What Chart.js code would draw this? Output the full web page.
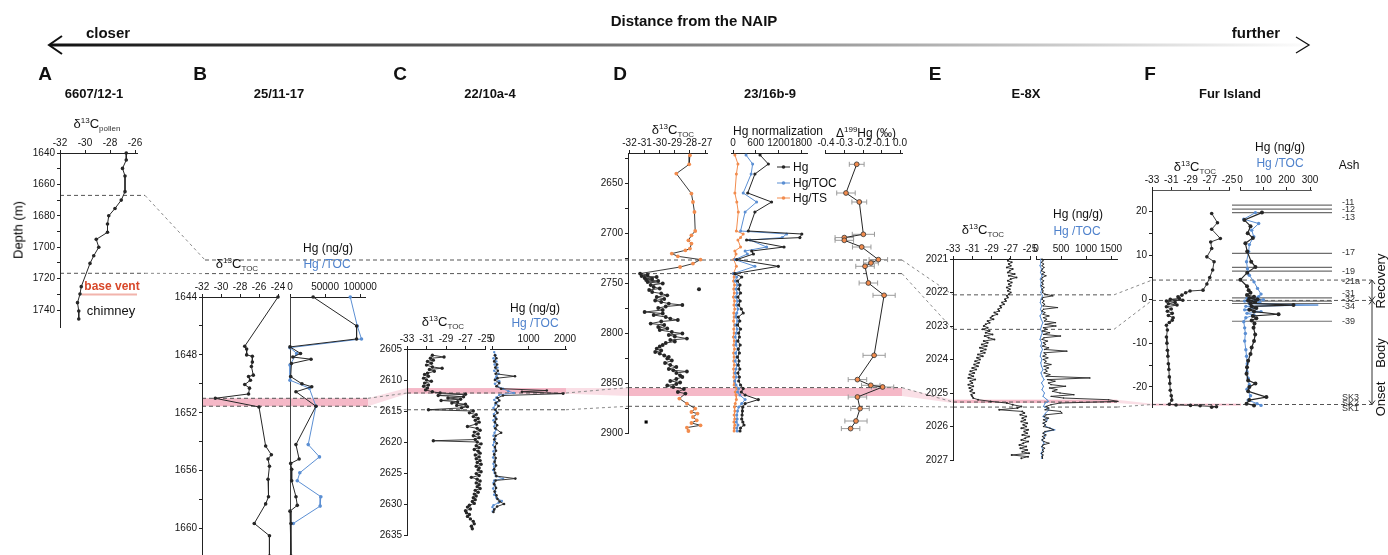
<!DOCTYPE html>
<html>
<head>
<meta charset="utf-8">
<script src="https://cdn.jsdelivr.net/npm/chart.js@4.4.0/dist/chart.umd.min.js"></script>
<style>
  body { margin: 0; background: #fff; }
  #wrap { position: relative; width: 1388px; height: 555px; overflow: hidden;
          font-family: "Liberation Sans", Arial, sans-serif; color: #111; }
  #wrap canvas { position: absolute; }
  .t { position: absolute; white-space: nowrap; line-height: 1; z-index: 3; }
  .t sup { font-size: 8px; vertical-align: 5px; }
  .t sub { font-size: 8px; vertical-align: -3px; color: #333; }
  .blue { color: #4f82cc; }
</style>
</head>
<body>
<div id="wrap">
  <canvas id="bg" width="1388" height="555" style="left:0;top:0;z-index:0"></canvas>
</div>
<script>
// ---- data ----

// A  6607/12-1 : depth (m) vs d13C pollen
const aDepth = [1640, 1644.5, 1649.8, 1654.6, 1664.6, 1670, 1675.3, 1680, 1685.2, 1690.5, 1695, 1700, 1705.4, 1710.3, 1725.1, 1729.8, 1735.3, 1740.6, 1745.7];
const aPollen = [-26.7, -26.7, -27.0, -26.8, -26.8, -27.1, -27.6, -28.1, -28.2, -28.2, -29.1, -28.9, -29.3, -29.6, -30.3, -30.4, -30.6, -30.5, -30.5];

// B  25/11-17
const bCDepth = [1644.0, 1647.4, 1647.6, 1648.0, 1648.1, 1648.5, 1648.8, 1649.4, 1649.5, 1649.75, 1650.05, 1650.3, 1650.7, 1651.0, 1651.6, 1654.3, 1654.9, 1655.2, 1655.7, 1656.6, 1657.8, 1658.3, 1659.65, 1660.5, 1661.9];
const bC13 = [-24.0, -27.5, -27.3, -27.3, -26.7, -26.7, -26.8, -26.6, -27.1, -26.9, -27.5, -27.0, -27.1, -30.6, -26.0, -25.3, -24.7, -25.05, -24.9, -25.05, -25.0, -25.3, -26.5, -24.9, -24.9];
const bHgDepth = [1644.0, 1646.0, 1646.9, 1647.45, 1647.9, 1648.15, 1648.3, 1648.6, 1649.5, 1650.0, 1650.2, 1650.55, 1651.55, 1654.2, 1655.2, 1655.5, 1655.9, 1656.7, 1657.8, 1658.4, 1658.8, 1659.65, 1661.9];
const bHg = [33000, 95000, 95000, 0, 15000, 4000, 30000, 2000, 1000, 17000, 31000, 8500, 37000, 8500, 13000, 1000, 2400, 2400, 8500, 10400, 0, 1400, 1400];
const bTocDepth = [1644.0, 1646.0, 1646.9, 1647.5, 1647.9, 1648.7, 1649.75, 1650.3, 1651.55, 1654.2, 1655.05, 1656.15, 1656.7, 1657.8, 1658.45, 1659.65];
const bHgToc = [86000, 96000, 102000, 0, 9500, 0, 0, 27500, 37000, 26000, 42000, 14000, 10400, 44000, 43000, 4700];

// C  22/10a-4
const cCDepth = [2606.0, 2606.3, 2606.5, 2606.8, 2607.0, 2607.3, 2607.6, 2607.9, 2608.1, 2608.3, 2608.6, 2608.9, 2609.1, 2609.4, 2609.7, 2610.0, 2610.2, 2610.5, 2610.8, 2611.0, 2611.3, 2611.6, 2611.9, 2612.1, 2612.3, 2612.5, 2612.7, 2612.9, 2613.1, 2613.3, 2613.5, 2613.7, 2613.9, 2614.1, 2614.3, 2614.5, 2614.8, 2615.0, 2615.3, 2615.6, 2615.9, 2616.2, 2616.5, 2616.8, 2617.1, 2617.5, 2617.8, 2618.1, 2618.4, 2618.7, 2619.0, 2619.3, 2619.6, 2619.8, 2620.0, 2620.3, 2620.6, 2620.9, 2621.2, 2621.5, 2621.8, 2622.1, 2622.4, 2622.7, 2623.0, 2623.3, 2623.6, 2623.9, 2624.2, 2624.5, 2624.8, 2625.1, 2625.4, 2625.7, 2626.0, 2626.3, 2626.6, 2626.9, 2627.2, 2627.5, 2627.8, 2628.1, 2628.4, 2628.7, 2629.0, 2629.3, 2629.6, 2629.9, 2630.2, 2630.5, 2630.8, 2631.1, 2631.4, 2631.7, 2632.0, 2632.4, 2632.8, 2633.2, 2633.6, 2634.0];
const cC13 = [-30.4, -29.2, -30.6, -30.3, -30.9, -30.5, -31.0, -30.4, -29.4, -30.7, -30.2, -30.9, -31.2, -30.8, -31.3, -31.0, -30.5, -31.2, -30.8, -31.3, -30.9, -31.1, -30.4, -29.6, -27.0, -29.8, -27.2, -28.8, -27.5, -29.5, -27.8, -28.4, -27.0, -27.9, -26.8, -27.4, -30.8, -26.2, -26.6, -25.9, -26.2, -25.7, -26.0, -25.6, -25.9, -26.8, -25.8, -25.5, -26.1, -25.7, -26.2, -25.6, -26.0, -30.3, -25.8, -25.4, -25.9, -25.6, -26.1, -25.7, -25.5, -26.0, -25.6, -25.9, -25.5, -25.8, -25.4, -25.9, -25.6, -25.7, -25.4, -25.9, -25.6, -26.4, -25.8, -25.5, -25.9, -25.6, -25.8, -25.5, -26.0, -25.7, -26.1, -25.9, -26.2, -26.0, -26.3, -26.1, -26.6, -26.8, -26.5, -27.0, -26.9, -26.6, -26.8, -26.5, -26.2, -26.1, -26.4, -26.3];
const cHgDepth = [2606.0, 2606.5, 2607.0, 2607.5, 2608.0, 2608.5, 2609.0, 2609.4, 2609.7, 2610.0, 2610.5, 2611.0, 2611.4, 2611.7, 2611.9, 2612.2, 2612.5, 2612.9, 2613.3, 2613.7, 2614.2, 2614.8, 2615.3, 2615.8, 2616.3, 2616.8, 2617.3, 2617.8, 2618.5, 2619.0, 2619.6, 2620.2, 2620.8, 2621.4, 2622.0, 2622.6, 2623.2, 2623.8, 2624.4, 2625.0, 2625.5, 2625.9, 2626.2, 2626.8, 2627.4, 2628.0, 2628.6, 2629.2, 2629.6, 2630.0, 2630.4, 2630.9, 2631.3];
const cHg = [80, 120, 60, 140, 90, 160, 100, 630, 150, 80, 200, 120, 250, 1500, 820, 1950, 300, 150, 200, 100, 180, 90, 150, 60, 120, 80, 140, 90, 250, 100, 60, 130, 80, 110, 60, 100, 70, 110, 60, 90, 120, 640, 100, 60, 110, 70, 120, 150, 210, 330, 140, 60, 40];
const cTocDepth = [2605.5, 2606.0, 2606.5, 2607.0, 2607.5, 2608.0, 2608.5, 2609.0, 2609.4, 2609.8, 2610.2, 2610.6, 2611.0, 2611.4, 2611.8, 2612.1, 2612.4, 2612.8, 2613.2, 2613.6, 2614.0, 2614.5, 2615.0, 2615.5, 2616.0, 2616.5, 2617.0, 2617.5, 2618.0, 2618.5, 2619.0, 2619.5, 2620.0, 2620.5, 2621.0, 2621.5, 2622.0, 2622.5, 2623.0, 2623.5, 2624.0, 2624.5, 2625.0, 2625.5, 2625.9, 2626.2, 2626.6, 2627.0, 2627.5, 2628.0, 2628.5, 2629.0, 2629.5, 2629.8, 2630.2, 2630.5, 2630.8, 2631.2];
const cHgToc = [60, 100, 40, 120, 70, 150, 60, 180, 120, 90, 200, 80, 150, 300, 450, 600, 200, 120, 60, 140, 90, 40, 110, 50, 100, 40, 90, 60, 110, 70, 40, 90, 60, 30, 80, 40, 70, 30, 80, 40, 60, 30, 70, 100, 300, 60, 40, 80, 30, 90, 60, 120, 270, 180, 40, 10, 60, 20];

// D  23/16b-9
const dCDepth = [2622.3, 2631.3, 2640.6, 2660.6, 2669, 2679, 2698, 2702.3, 2707.3, 2710.6, 2715.6, 2717.3, 2720.6, 2723.3, 2726.6, 2730.6, 2734, 2740.6, 2742, 2743, 2744, 2745, 2746, 2747, 2748, 2749, 2750.5, 2752, 2754, 2755.5, 2757, 2759, 2760.5, 2762.3, 2764, 2766, 2767.5, 2769, 2770.6, 2772, 2773.5, 2775, 2777, 2779, 2780.5, 2782, 2784, 2785.6, 2787, 2788.5, 2790.6, 2792, 2794, 2795.5, 2797, 2799, 2800.5, 2802, 2803.5, 2805.6, 2807, 2808.5, 2810, 2812, 2813.5, 2815.6, 2817.5, 2819, 2820.6, 2822.5, 2824, 2825.6, 2827.5, 2830, 2832, 2834, 2836, 2837.3, 2838.5, 2840, 2842.3, 2844, 2846, 2848, 2849.5, 2851, 2852.5, 2854, 2856, 2859, 2860.6, 2865.6, 2870.6, 2875.6, 2879, 2880.6, 2884, 2887.3, 2890, 2892.3, 2894.6, 2898];
const dC13 = [-28.0, -28.05, -28.9, -27.9, -27.8, -27.7, -27.65, -27.9, -28.1, -27.9, -28.0, -28.3, -29.2, -28.8, -27.3, -27.8, -28.65, -31.3, -30.8, -31.2, -30.2, -31.0, -30.5, -30.9, -30.1, -30.8, -29.8, -30.6, -30.4, -30.0, -30.7, -30.5, -29.9, -29.5, -30.2, -29.7, -30.3, -29.9, -29.4, -28.5, -29.6, -30.1, -29.8, -31.0, -29.8, -30.4, -29.6, -29.3, -28.8, -29.9, -30.6, -29.7, -30.1, -29.5, -30.0, -29.2, -28.5, -29.4, -29.0, -28.2, -29.3, -29.0, -29.6, -29.8, -30.0, -30.2, -29.9, -30.3, -30.0, -29.7, -29.4, -29.5, -29.2, -29.65, -29.3, -28.9, -29.4, -29.1, -28.2, -28.9, -28.65, -28.5, -28.9, -29.3, -28.65, -28.9, -29.5, -29.1, -28.4, -28.8, -28.3, -28.7, -28.2, -27.65, -27.9, -27.5, -27.8, -27.55, -27.9, -27.3, -28.2, -28.1];
const dOrangeAbove = 2738, dOrangeBelow = 2862;   // samples plotted with orange markers
const dOutDepth = [2756.3], dOutC13 = [-27.4];
const dMarkDepth = [2889], dMarkC13 = [-30.9];
const dHgDepth = [2622, 2631, 2641, 2660, 2669, 2679, 2698, 2701, 2704.6, 2707, 2714, 2718, 2721, 2726.6, 2733.3, 2740.6, 2744, 2748, 2752, 2756, 2760, 2764, 2768, 2772, 2776, 2780, 2784, 2788, 2792, 2796, 2800, 2804, 2808, 2812, 2816, 2820, 2824, 2828, 2832, 2836, 2840, 2844, 2848, 2852, 2855.6, 2859, 2862, 2866.6, 2870.6, 2874, 2878, 2882, 2886, 2889, 2892, 2895, 2898];
const dHg = [715, 935, 580, 390, 1020, 580, 405, 1820, 1770, 360, 1350, 495, 540, 100, 1200, 50, 230, 120, 185, 150, 200, 130, 190, 150, 220, 270, 140, 180, 120, 200, 150, 170, 130, 190, 140, 170, 120, 160, 140, 180, 130, 170, 150, 200, 270, 220, 320, 670, 320, 260, 250, 240, 230, 260, 290, 200, 185];
const dHgToc = [345, 520, 480, 270, 625, 320, 200, 1420, 1300, 450, 890, 320, 380, 50, 580, 10, 100, 60, 120, 80, 110, 70, 120, 90, 130, 100, 80, 120, 70, 110, 90, 60, 100, 80, 130, 70, 100, 60, 110, 80, 60, 90, 50, 80, 150, 120, 180, 320, 230, 150, 120, 100, 110, 90, 130, 100, 110];
const dHgTs = [50, 130, 90, 50, 100, 140, 90, 270, 200, 130, 200, 50, 80, 20, 90, 10, 30, 15, 40, 20, 35, 10, 40, 25, 45, 20, 30, 15, 40, 20, 30, 10, 35, 20, 40, 15, 30, 20, 35, 15, 30, 20, 40, 30, 100, 60, 80, 90, 60, 40, 50, 30, 45, 25, 50, 35, 30];
const dMdfDepth = [2631.3, 2660, 2669, 2701.3, 2704.6, 2707.3, 2714, 2726.6, 2730, 2733.3, 2750, 2762.3, 2822.3, 2846.6, 2852.3, 2854, 2864, 2875.6, 2888, 2895.6];
const dD199 = [-0.234, -0.292, -0.22, -0.198, -0.301, -0.301, -0.207, -0.117, -0.157, -0.189, -0.171, -0.086, -0.14, -0.23, -0.158, -0.094, -0.23, -0.216, -0.238, -0.267];
const dD199Err = [0.04, 0.05, 0.04, 0.06, 0.05, 0.05, 0.05, 0.05, 0.04, 0.05, 0.05, 0.06, 0.06, 0.05, 0.05, 0.06, 0.05, 0.05, 0.06, 0.05];

// E  E-8X
const eDepth = [2021.00, 2021.05, 2021.10, 2021.15, 2021.20, 2021.25, 2021.30, 2021.35, 2021.40, 2021.45, 2021.50, 2021.55, 2021.60, 2021.65, 2021.70, 2021.75, 2021.80, 2021.85, 2021.90, 2021.95,
  2022.00, 2022.05, 2022.10, 2022.15, 2022.20, 2022.25, 2022.30, 2022.35, 2022.40, 2022.45, 2022.50, 2022.55, 2022.60, 2022.65, 2022.70, 2022.75, 2022.80, 2022.85, 2022.90, 2022.95,
  2023.00, 2023.05, 2023.10, 2023.15, 2023.20, 2023.25, 2023.30, 2023.35, 2023.40, 2023.45, 2023.50, 2023.55, 2023.60, 2023.65, 2023.70, 2023.75, 2023.80, 2023.85, 2023.90, 2023.95,
  2024.00, 2024.05, 2024.10, 2024.15, 2024.20, 2024.25, 2024.30, 2024.35, 2024.40, 2024.45, 2024.50, 2024.55, 2024.60, 2024.65, 2024.70, 2024.75, 2024.80, 2024.85, 2024.90, 2024.95,
  2025.00, 2025.05, 2025.10, 2025.15, 2025.20, 2025.25, 2025.30, 2025.35, 2025.40, 2025.45, 2025.50, 2025.55, 2025.60, 2025.65, 2025.70, 2025.75, 2025.80, 2025.85, 2025.90, 2025.95,
  2026.00, 2026.05, 2026.10, 2026.15, 2026.20, 2026.25, 2026.30, 2026.35, 2026.40, 2026.45, 2026.50, 2026.55, 2026.60, 2026.65, 2026.70, 2026.75, 2026.80, 2026.85, 2026.90, 2026.95];
const eC13 = [-27.1, -27.3, -26.9, -27.2, -27.0, -27.4, -26.8, -27.1, -27.3, -26.6, -27.2, -26.4, -27.0, -27.3, -26.9, -27.2, -27.0, -27.4, -27.1, -27.3,
  -27.0, -27.2, -27.4, -27.3, -27.6, -27.5, -27.9, -27.7, -28.1, -28.0, -28.3, -28.2, -28.7, -28.4, -28.9, -29.1, -28.8, -29.4, -29.2, -29.6,
  -29.8, -29.4, -29.9, -29.2, -29.6, -28.9, -29.7, -29.3, -28.7, -29.8, -29.4, -30.0, -29.5, -30.2, -29.6, -30.1, -29.7, -30.4, -29.9, -30.5,
  -30.2, -30.7, -30.3, -30.8, -30.4, -31.0, -30.6, -31.2, -30.8, -31.3, -30.9, -31.4, -30.7, -31.2, -31.0, -31.4, -30.9, -31.3, -31.0, -31.2,
  -30.8, -31.1, -31.0, -30.9, -30.4, -29.1, -27.4, -26.8, -25.9, -26.3, -28.2, -25.8, -25.6, -26.0, -25.4, -25.8, -25.5, -25.9, -25.3, -25.7,
  -25.4, -25.9, -25.2, -25.6, -25.3, -25.8, -25.1, -25.5, -25.9, -25.2, -25.7, -26.1, -25.4, -26.0, -25.3, -25.8, -25.1, -26.9, -25.2, -25.9];
const eHg = [120, 140, 110, 150, 120, 160, 130, 110, 170, 120, 200, 130, 110, 150, 120, 140, 110, 160, 120, 140,
  130, 180, 340, 140, 120, 160, 130, 170, 140, 430, 150, 120, 180, 140, 260, 150, 210, 170, 390, 180,
  400, 150, 220, 130, 270, 150, 490, 160, 120, 230, 150, 190, 130, 250, 170, 620, 160, 200, 140, 240,
  150, 200, 170, 300, 160, 250, 180, 220, 160, 280, 200, 1080, 230, 380, 250, 300, 590, 270, 420, 330,
  480, 760, 300, 550, 1450, 1640, 480, 300, 200, 260, 180, 490, 520, 200, 160, 250, 150, 210, 140, 190,
  150, 280, 350, 180, 140, 200, 130, 170, 120, 160, 260, 140, 120, 170, 130, 150, 110, 140, 120, 130];
const eTocDepth = [2021.0, 2021.1, 2021.2, 2021.3, 2021.4, 2021.5, 2021.6, 2021.7, 2021.8, 2021.9, 2022.0, 2022.1, 2022.2, 2022.3, 2022.4, 2022.5, 2022.6, 2022.7, 2022.8, 2022.9,
  2023.0, 2023.1, 2023.2, 2023.3, 2023.4, 2023.5, 2023.6, 2023.7, 2023.8, 2023.9, 2024.0, 2024.1, 2024.2, 2024.3, 2024.4, 2024.5, 2024.6, 2024.7, 2024.8, 2024.9,
  2025.0, 2025.1, 2025.2, 2025.25, 2025.3, 2025.4, 2025.5, 2025.6, 2025.7, 2025.8, 2025.9, 2026.0, 2026.1, 2026.15, 2026.2, 2026.3, 2026.4, 2026.5, 2026.6, 2026.7, 2026.8, 2026.9, 2026.95];
const eHgToc = [90, 100, 80, 110, 90, 120, 85, 105, 90, 115, 95, 130, 100, 85, 115, 90, 120, 80, 105, 135,
  110, 90, 125, 100, 80, 115, 95, 130, 100, 85, 120, 95, 110, 140, 100, 125, 160, 110, 150, 120,
  170, 140, 220, 250, 180, 150, 260, 190, 140, 230, 160, 200, 380, 220, 150, 180, 120, 160, 110, 140, 100, 130, 110];

// F  Fur Island : height (m)
const fCH = [19.6, 17.5, 16.0, 13.9, 13.1, 11.6, 9.7, 8.6, 6.7, 5.0, 3.5, 2.1, 1.9, 1.5, 0.96, 0.6, 0.2, 0.0, -0.2, -0.4, -0.7, -1.0, -1.3, -1.7, -2.2, -2.7, -3.2, -3.7, -4.2, -4.75, -5.3, -5.9, -7.0, -8.6, -10.0, -11.6, -13.0, -14.7, -16.0, -17.7, -19.2, -20.75, -22.0, -23.0, -23.95, -24.1, -24.2, -24.3, -24.5, -24.6];
const fC13 = [-26.8, -26.2, -26.8, -25.9, -26.9, -26.8, -27.3, -26.55, -26.7, -27.0, -27.3, -27.7, -29.05, -29.5, -29.9, -30.3, -30.15, -31.1, -29.8, -31.5, -30.6, -31.3, -30.4, -31.5, -31.0, -31.4, -30.9, -31.3, -30.8, -30.9, -31.2, -31.5, -31.4, -31.5, -31.45, -31.4, -31.35, -31.3, -31.25, -31.2, -31.15, -31.1, -31.0, -30.95, -31.2, -30.5, -29.0, -28.0, -26.3, -26.8];
const fHgH = [19.8, 18.1, 16.7, 15.1, 14.0, 12.8, 10.9, 8.6, 7.4, 6.1, 4.5, 3.0, 2.1, 1.5, 1.0, 0.6, 0.3, 0.0, -0.3, -0.6, -0.9, -1.3, -1.6, -2.0, -2.4, -2.8, -3.4, -3.8, -4.3, -4.8, -5.5, -6.5, -8.0, -9.5, -11.0, -12.5, -14.0, -15.5, -17.0, -18.5, -19.2, -20.0, -21.0, -22.3, -23.0, -23.8, -24.2];
const fHg = [94, 19, 45, 33, 55, 23, 31, 48, 66, 31, 2, 30, 37, 45, 30, 60, 40, 75, 35, 65, 45, 229, 50, 70, 40, 60, 165, 55, 70, 50, 62, 58, 65, 60, 50, 45, 35, 30, 28, 35, 66, 40, 35, 113, 40, 28, 60];
const fTocH = [19.8, 18.3, 17.3, 15.8, 14.3, 12.5, 10.9, 8.6, 7.0, 5.5, 4.0, 2.5, 1.2, 0.6, 0.2, -0.1, -0.4, -0.7, -1.0, -1.3, -1.6, -2.0, -2.4, -2.8, -3.2, -3.6, -4.2, -5.1, -6.5, -7.8, -9.5, -11.5, -13.0, -14.7, -16.5, -18.0, -19.5, -20.5, -22.0, -23.0, -23.8, -24.2];
const fHgToc = [66, 16, 80, 50, 59, 40, 37, 28, 32, 40, 60, 75, 90, 80, 30, 100, 20, 85, 40, 335, 25, 70, 20, 90, 30, 60, 25, 16, 20, 23, 20, 25, 28, 31, 30, 35, 40, 30, 45, 35, 73, 90];
const ashH = [21.5, 20.6, 19.8, 10.5, 7.3, 6.45, 0.35, -0.4, -0.95, -5.0];
const ashNames = ['-11', '-12', '-13', '-17', '-19', '-21a', '-31', '-32', '-34', '-39', 'SK3', 'SK2', 'SK1'];
const ashNameH = [22.3, 20.6, 18.7, 10.7, 6.5, 4.2, 1.5, 0.05, -1.5, -5.0, -22.3, -23.6, -24.8];

// correlation levels (depths / heights in each section)
const lvlUpper = { a: 1667, d: 2727, e: 2022.07, f: 4.4 };
const lvlLower = { a: 1716.6, d: 2740.6, e: 2023.1, f: -0.25 };
const bandTop = { b: 1651.0, c: 2611.3, d: 2855, e: 2025.2, f: -24.0 };
const bandBot = { b: 1651.55, c: 2612.2, d: 2863, e: 2025.3, f: -24.05 };
const dashTop = { b: 1651.0, c: 2612.1, d: 2854.6, e: 2025.27 };
const dashBot = { b: 1651.55, c: 2614.8, d: 2873.3, e: 2025.42, f: -24.0 };

// ---- styling ----
const FONT = '"Liberation Sans", Arial, sans-serif';
const INK = '#262626', BLUE = '#5b8fd3', ORANGE = '#f28c4e', PINK = 'rgb(245,184,199)';
const AXC = '#222', TICKC = '#151515';
const HX = 22, YW = 40, PADL = 12, PADR = 18, PADB = 4;

const wrap = document.getElementById('wrap');
const charts = {};

function series(xs, ys, color, r, w, extra) {
  return Object.assign({
    data: xs.map((v, i) => ({ x: v, y: ys[i] })),
    showLine: true, borderColor: color, backgroundColor: color,
    pointBackgroundColor: color, pointBorderColor: color, pointBorderWidth: 0,
    pointRadius: r, borderWidth: w, clip: false
  }, extra || {});
}

function mk(key, o) {
  const yW = o.yAxis ? YW : 0;
  const cv = document.createElement('canvas');
  const left = Math.round(o.l - yW - PADL), top = Math.round(o.t - HX);
  const w = Math.round(o.r - left) + PADR, h = Math.round(o.b - top) + PADB;
  cv.width = w; cv.height = h;
  cv.style.left = left + 'px'; cv.style.top = top + 'px'; cv.style.zIndex = 1;
  wrap.appendChild(cv);

  let yScale;
  if (o.yAxis) {
    yScale = {
      type: 'linear', position: 'left', reverse: !!o.reverse, min: o.yMin, max: o.yMax,
      afterBuildTicks: s => { s.ticks = o.yTicks.map(v => ({ value: v })); },
      afterFit: s => { s.width = yW; s.paddingTop = 0; s.paddingBottom = 0; },
      ticks: { autoSkip: false, padding: 2, color: TICKC, font: { family: FONT, size: 10 },
               callback: v => o.yLabels.includes(v) ? String(v) : '' },
      grid: { drawOnChartArea: false, tickLength: 3, color: AXC },
      border: { color: AXC }
    };
  } else if (o.yDash) {
    yScale = {
      type: 'linear', position: 'left', reverse: !!o.reverse, min: o.yMin, max: o.yMax,
      afterFit: s => { s.width = 0; s.paddingTop = 0; s.paddingBottom = 0; },
      ticks: { display: false },
      grid: { drawOnChartArea: false, drawTicks: false },
      border: { color: '#444', dash: [3, 3] }
    };
  } else {
    yScale = { type: 'linear', display: false, reverse: !!o.reverse, min: o.yMin, max: o.yMax };
  }

  const chart = new Chart(cv, {
    type: 'scatter',
    data: { datasets: o.datasets },
    options: {
      responsive: false, animation: false, devicePixelRatio: 1, events: [],
      layout: { autoPadding: false, padding: { left: PADL, right: PADR, top: 0, bottom: PADB } },
      plugins: { legend: { display: false }, tooltip: { enabled: false } },
      scales: {
        x: {
          type: 'linear', position: 'top', min: o.xMin, max: o.xMax,
          afterBuildTicks: s => { s.ticks = o.xTicks.map(v => ({ value: v })); },
          afterFit: s => { s.height = HX; s.paddingLeft = 0; s.paddingRight = 0; },
          ticks: { autoSkip: false, maxRotation: 0, minRotation: 0, padding: 1, color: TICKC,
                   font: { family: FONT, size: 10 }, callback: v => o.xFmt ? o.xFmt(v) : String(v) },
          grid: { drawOnChartArea: false, tickLength: 3, color: AXC },
          border: { color: o.axisColor || AXC }
        },
        y: yScale
      }
    },
    plugins: o.plugins || []
  });
  charts[key] = { chart, left, top };
}

const errBars = {
  id: 'errBars',
  beforeDatasetsDraw(chart) {
    const ctx = chart.ctx, xs = chart.scales.x, ys = chart.scales.y;
    ctx.save();
    ctx.strokeStyle = '#9a9a9a'; ctx.lineWidth = 1;
    dD199.forEach((v, i) => {
      const y = ys.getPixelForValue(dMdfDepth[i]);
      const x1 = xs.getPixelForValue(v - dD199Err[i]), x2 = xs.getPixelForValue(v + dD199Err[i]);
      ctx.beginPath();
      ctx.moveTo(x1, y); ctx.lineTo(x2, y);
      ctx.moveTo(x1, y - 2.5); ctx.lineTo(x1, y + 2.5);
      ctx.moveTo(x2, y - 2.5); ctx.lineTo(x2, y + 2.5);
      ctx.stroke();
    });
    ctx.restore();
  }
};

// ---- panels ----
mk('a', { l: 60, r: 137, t: 153, b: 327, xMin: -32, xMax: -25.84, xTicks: [-32, -30, -28, -26],
  yAxis: true, reverse: true, yMin: 1640, yMax: 1750.8,
  yTicks: [1640, 1650, 1660, 1670, 1680, 1690, 1700, 1710, 1720, 1730, 1740],
  yLabels: [1640, 1660, 1680, 1700, 1720, 1740],
  datasets: [series(aPollen, aDepth, INK, 1.8, 1)] });

mk('bC', { l: 201.7, r: 277.7, t: 296.7, b: 556, xMin: -32, xMax: -24, xTicks: [-32, -30, -28, -26, -24],
  yAxis: true, reverse: true, yMin: 1644, yMax: 1661.9,
  yTicks: [1644, 1646, 1648, 1650, 1652, 1654, 1656, 1658, 1660],
  yLabels: [1644, 1648, 1652, 1656, 1660],
  datasets: [series(bC13, bCDepth, INK, 1.8, 1)] });
mk('bH', { l: 290, r: 365, t: 296.7, b: 556, xMin: 0, xMax: 107000, xTicks: [0, 50000, 100000],
  yDash: true, reverse: true, yMin: 1644, yMax: 1661.9,
  datasets: [series(bHg, bHgDepth, INK, 1.8, 1), series(bHgToc, bTocDepth, BLUE, 1.8, 1)] });

mk('cC', { l: 406.5, r: 485, t: 349.3, b: 535, xMin: -33, xMax: -25, xTicks: [-33, -31, -29, -27, -25],
  yAxis: true, reverse: true, yMin: 2605, yMax: 2635,
  yTicks: [2605, 2610, 2615, 2620, 2625, 2630, 2635], yLabels: [2605, 2610, 2615, 2620, 2625, 2630, 2635],
  datasets: [series(cC13, cCDepth, INK, 1.7, 0.9)] });
mk('cH', { l: 490, r: 566, t: 349.3, b: 535, xMin: -55, xMax: 2027, xTicks: [0, 1000, 2000],
  reverse: true, yMin: 2605, yMax: 2635,
  datasets: [series(cHg, cHgDepth, INK, 1.3, 0.9), series(cHgToc, cTocDepth, BLUE, 1.2, 0.9)] });

mk('dC', { l: 628, r: 707, t: 152.7, b: 432.7, xMin: -32.1, xMax: -26.87, xTicks: [-32, -31, -30, -29, -28, -27],
  yAxis: true, reverse: true, yMin: 2620, yMax: 2900,
  yTicks: [2625, 2650, 2675, 2700, 2725, 2750, 2775, 2800, 2825, 2850, 2875, 2900],
  yLabels: [2650, 2700, 2750, 2800, 2850, 2900],
  datasets: [
    series(dC13, dCDepth, INK, 1.9, 0.9, {
      pointBackgroundColor: c => { const d = dCDepth[c.dataIndex]; return (d < dOrangeAbove || d > dOrangeBelow) ? ORANGE : INK; },
      pointBorderColor: c => { const d = dCDepth[c.dataIndex]; return (d < dOrangeAbove || d > dOrangeBelow) ? ORANGE : INK; }
    }),
    series(dOutC13, dOutDepth, INK, 2, 0, { showLine: false }),
    series(dMarkC13, dMarkDepth, '#000', 2.2, 0, { showLine: false, pointStyle: 'rect' })
  ] });
mk('dH', { l: 731, r: 807, t: 152.7, b: 432.7, xMin: -53, xMax: 1958, xTicks: [0, 600, 1200, 1800],
  reverse: true, yMin: 2620, yMax: 2900,
  datasets: [series(dHg, dHgDepth, INK, 1.6, 1), series(dHgToc, dHgDepth, BLUE, 1.5, 1), series(dHgTs, dHgDepth, ORANGE, 1.5, 1)] });
mk('dM', { l: 825, r: 902, t: 152.7, b: 432.7, xMin: -0.4054, xMax: 0.0108, xTicks: [-0.4, -0.3, -0.2, -0.1, 0],
  xFmt: v => v.toFixed(1), reverse: true, yMin: 2620, yMax: 2900,
  datasets: [series(dD199, dMdfDepth, INK, 2.4, 1, { pointBackgroundColor: ORANGE, pointBorderColor: '#333', pointBorderWidth: 0.8 })],
  plugins: [errBars] });

mk('eC', { l: 952.5, r: 1030, t: 258.5, b: 459.5, xMin: -33, xMax: -25, xTicks: [-33, -31, -29, -27, -25],
  yAxis: true, reverse: true, yMin: 2021, yMax: 2027,
  yTicks: [2021, 2022, 2023, 2024, 2025, 2026, 2027], yLabels: [2021, 2022, 2023, 2024, 2025, 2026, 2027],
  datasets: [series(eC13, eDepth, INK, 1, 0.9)] });
mk('eH', { l: 1036, r: 1117, t: 258.5, b: 459.5, xMin: 0, xMax: 1620, xTicks: [0, 500, 1000, 1500],
  reverse: true, yMin: 2021, yMax: 2027,
  datasets: [series(eHg, eDepth, INK, 0.7, 0.9), series(eHgToc, eTocDepth, BLUE, 0.6, 1)] });

mk('fC', { l: 1152, r: 1229, t: 190, b: 406.7, xMin: -33, xMax: -25, xTicks: [-33, -31, -29, -27, -25],
  yAxis: true, yMin: -24.57, yMax: 24.96,
  yTicks: [-20, -15, -10, -5, 0, 5, 10, 15, 20], yLabels: [-20, -10, 0, 10, 20],
  datasets: [series(fC13, fCH, INK, 1.8, 0.9)], axisColor: '#555' });
mk('fH', { l: 1239.5, r: 1311, t: 190, b: 406.7, xMin: 0, xMax: 304, xTicks: [0, 100, 200, 300],
  yMin: -24.57, yMax: 24.96,
  datasets: [series(fHg, fHgH, INK, 2, 1.2), series(fHgToc, fTocH, BLUE, 1.7, 1)], axisColor: '#555' });

// ---- helpers in page coordinates ----
function py(key, v) { const c = charts[key]; return c.top + c.chart.scales.y.getPixelForValue(v); }
function areaL(key) { const c = charts[key]; return c.left + c.chart.chartArea.left; }
function areaR(key) { const c = charts[key]; return c.left + c.chart.chartArea.right; }

const span = {
  a: [areaL('a'), areaR('a') + 8],
  b: [areaL('bC'), areaR('bH') + 3],
  c: [areaL('cC'), areaR('cH')],
  d: [areaL('dC'), areaR('dM')],
  e: [areaL('eC'), areaR('eH')],
  f: [areaL('fC'), areaR('fH') + 61]
};
const firstKey = { a: 'a', b: 'bC', c: 'cC', d: 'dC', e: 'eC', f: 'fC' };

// ---- background: arrow, bands, correlation lines, ash layers ----
const g = document.getElementById('bg').getContext('2d');
const grd = g.createLinearGradient(50, 0, 1300, 0);
grd.addColorStop(0, '#111'); grd.addColorStop(0.55, '#8a8a8a'); grd.addColorStop(1, '#fbfbfb');
g.fillStyle = grd; g.fillRect(50, 43.5, 1256, 3);
g.strokeStyle = '#111'; g.lineWidth = 2;
g.beginPath(); g.moveTo(62, 36); g.lineTo(49, 45); g.lineTo(62, 54); g.stroke();
g.lineWidth = 1.3;
g.beginPath(); g.moveTo(1296, 37); g.lineTo(1309, 45); g.lineTo(1296, 53); g.stroke();

// pink band (onset level)
function bandSeg(p, x1) {
  const k = firstKey[p];
  let t = py(k, bandTop[p]), b = py(k, bandBot[p]);
  if (b - t < 1.6) { const m = (t + b) / 2; t = m - 0.9; b = m + 0.9; }
  return [span[p][0], x1 != null ? x1 : span[p][1], t, b];
}
const bands = [bandSeg('b', 368), bandSeg('c'), bandSeg('d'), bandSeg('e'), bandSeg('f', areaR('fH') - 70)];
bands.forEach((s, i) => {
  g.fillStyle = PINK;
  g.fillRect(s[0], s[2], s[1] - s[0], s[3] - s[2]);
  if (i < bands.length - 1) {
    const n = bands[i + 1];
    g.fillStyle = 'rgba(245,184,199,0.45)';
    g.beginPath(); g.moveTo(s[1], s[2]); g.lineTo(n[0], n[2]); g.lineTo(n[0], n[3]); g.lineTo(s[1], s[3]); g.closePath(); g.fill();
  }
});

// dashed correlation lines
function chain(segs) {
  g.lineWidth = 1;
  segs.forEach((s, i) => {
    g.setLineDash([4, 3]); g.strokeStyle = '#555';
    g.beginPath(); g.moveTo(s[0], s[2]); g.lineTo(s[1], s[2]); g.stroke();
    if (i < segs.length - 1) {
      const n = segs[i + 1];
      g.setLineDash([3, 3]); g.strokeStyle = '#8a8a8a';
      g.beginPath(); g.moveTo(s[1], s[2]); g.lineTo(n[0], n[2]); g.stroke();
    }
  });
  g.setLineDash([]);
}
function seg(p, lvl, x0, x1) { return [x0 != null ? x0 : span[p][0], x1 != null ? x1 : span[p][1], py(firstKey[p], lvl[p])]; }
chain([seg('a', lvlUpper), seg('d', lvlUpper, span.b[0] + 3), seg('e', lvlUpper, null, span.e[1] - 3), seg('f', lvlUpper)]);
chain([seg('a', lvlLower), seg('d', lvlLower, span.b[0] + 3), seg('e', lvlLower, null, span.e[1] - 3), seg('f', lvlLower)]);
chain([seg('b', dashTop, null, 368), seg('c', dashTop), seg('d', dashTop), seg('e', dashTop)]);
chain([seg('b', dashBot, null, 368), seg('c', dashBot), seg('d', dashBot), seg('e', dashBot), seg('f', dashBot)]);

// ash layers (Fur Island)
g.strokeStyle = '#6e6e6e'; g.lineWidth = 1.2;
ashH.forEach(h => { const y = py('fH', h); g.beginPath(); g.moveTo(areaL('fH') - 8, y); g.lineTo(areaR('fH') + 21, y); g.stroke(); });

// base vent marker (A)
g.strokeStyle = '#f2b4ac'; g.lineWidth = 2;
g.beginPath(); g.moveTo(82, 294.5); g.lineTo(137, 294.5); g.stroke();

// stratigraphic bracket (F)
const bx = 1372, y1 = py('fC', lvlUpper.f), y2 = py('fC', lvlLower.f), y3 = py('fC', dashBot.f);
g.strokeStyle = '#333'; g.lineWidth = 1;
g.beginPath(); g.moveTo(bx, y1); g.lineTo(bx, y3); g.stroke();
function head(y, dir) { g.beginPath(); g.moveTo(bx - 3, y - 4 * dir); g.lineTo(bx, y); g.lineTo(bx + 3, y - 4 * dir); g.stroke(); }
head(y1, -1); head(y2, 1); head(y2, -1); head(y3, 1);

// D legend symbols
const legY = [167, 183, 198], legC = [INK, BLUE, ORANGE];
legY.forEach((y, i) => {
  g.strokeStyle = legC[i]; g.fillStyle = legC[i]; g.lineWidth = 1;
  g.beginPath(); g.moveTo(777, y); g.lineTo(790, y); g.stroke();
  g.beginPath(); g.arc(783.5, y, 1.8, 0, Math.PI * 2); g.fill();
});

// ---- text ----
function txt(html, x, y, style, anchor) {
  const d = document.createElement('div');
  d.className = 't'; d.innerHTML = html;
  d.style.cssText += style || '';
  d.style.left = x + 'px'; d.style.top = y + 'px';
  const tr = anchor === 'l' ? 'translate(0,-50%)' : 'translate(-50%,-50%)';
  d.style.transform = tr + (anchor === 'r90' ? ' rotate(-90deg)' : '');
  wrap.appendChild(d);
}
const BOLD = 'font-weight:bold;';
txt('Distance from the NAIP', 694, 20, BOLD + 'font-size:15px;');
txt('closer', 108, 32, BOLD + 'font-size:15px;');
txt('further', 1256, 32, BOLD + 'font-size:15px;');
[['A', 45], ['B', 200], ['C', 400], ['D', 620], ['E', 935], ['F', 1150]].forEach(p => txt(p[0], p[1], 73, BOLD + 'font-size:19px;'));
[['6607/12-1', 94], ['25/11-17', 279], ['22/10a-4', 490], ['23/16b-9', 770], ['E-8X', 1026], ['Fur Island', 1230]].forEach(p => txt(p[0], p[1], 93, BOLD + 'font-size:13px;'));

const C13TOC = '&delta;<sup>13</sup>C<sub>TOC</sub>';
txt('&delta;<sup>13</sup>C<sub>pollen</sub>', 97, 125, 'font-size:13px;');
txt('Depth (m)', 18, 230, 'font-size:13px;color:#000;', 'r90');
txt('base vent', 112, 286, BOLD + 'font-size:12px;color:#d8482a;');
txt('chimney', 111, 310, 'font-size:13px;');

txt(C13TOC, 237, 265, 'font-size:13px;');
txt('Hg (ng/g)', 328, 248, 'font-size:12px;');
txt('Hg /TOC', 327, 264, 'font-size:12px;');
txt(C13TOC, 443, 323, 'font-size:13px;');
txt('Hg (ng/g)', 535, 308, 'font-size:12px;');
txt('Hg /TOC', 535, 323, 'font-size:12px;');
txt(C13TOC, 673, 131, 'font-size:13px;');
txt('Hg normalization', 778, 131, 'font-size:12px;');
txt('&Delta;<sup>199</sup>Hg (&permil;)', 866, 132, 'font-size:12px;');
txt('Hg', 793, 167, 'font-size:12px;', 'l');
txt('Hg/TOC', 793, 183, 'font-size:12px;', 'l');
txt('Hg/TS', 793, 198, 'font-size:12px;', 'l');
txt(C13TOC, 983, 231, 'font-size:13px;');
txt('Hg (ng/g)', 1078, 214, 'font-size:12px;');
txt('Hg /TOC', 1077, 231, 'font-size:12px;');
txt(C13TOC, 1195, 168, 'font-size:13px;');
txt('Hg (ng/g)', 1280, 147, 'font-size:12px;');
txt('Hg /TOC', 1280, 163, 'font-size:12px;');
txt('Ash', 1349, 165, 'font-size:12px;');
document.querySelectorAll('.t').forEach(d => { if (d.textContent === 'Hg /TOC') d.classList.add('blue'); });

ashNames.forEach((n, i) => txt(n, 1342, py('fH', ashNameH[i]), 'font-size:9px;color:#333;', 'l'));
txt('Recovery', 1380, py('fC', 4.2), 'font-size:13px;', 'r90');
txt('Body', 1380, py('fC', -12.3), 'font-size:13px;', 'r90');
txt('Onset', 1380, py('fC', -22.8), 'font-size:13px;', 'r90');
</script>
</body>
</html>
